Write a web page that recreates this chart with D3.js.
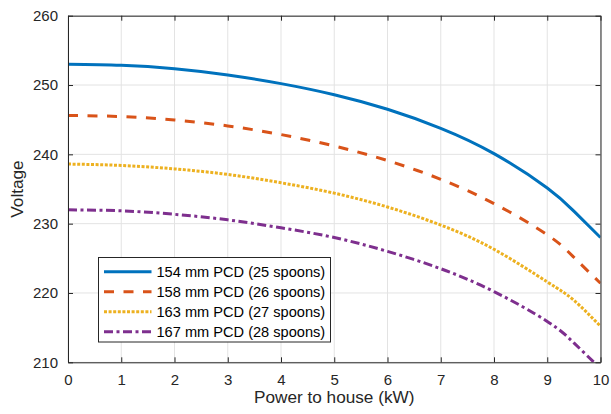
<!DOCTYPE html>
<html>
<head>
<meta charset="utf-8">
<script src="https://cdn.jsdelivr.net/npm/d3@7"></script>
<style>
  body { margin: 0; background: #fff; }
  svg { font-family: "Liberation Sans", Arial, sans-serif; }
</style>
</head>
<body>
<div id="chart"></div>
<script>
// power to house (kW)
var power = [0, 1, 2, 3, 4, 5, 6, 7, 8, 9, 9.5, 10];

// voltage for each rotor size
var v154 = [253.0, 252.85, 252.35, 251.45, 250.2, 248.6, 246.5, 243.75, 240.1, 235.15, 231.8, 228.0];
var v158 = [245.6, 245.45, 244.95, 244.1, 242.85, 241.2, 239.1, 236.4, 232.9, 228.4, 225.15, 221.4];
var v163 = [238.6, 238.4, 237.9, 237.1, 235.9, 234.4, 232.4, 229.8, 226.3, 221.6, 218.95, 215.2];
var v167 = [232.0, 231.85, 231.35, 230.55, 229.4, 228.0, 226.0, 223.5, 220.2, 215.9, 212.8, 209.1];

var labels = ["154 mm PCD (25 spoons)", "158 mm PCD (26 spoons)",
              "163 mm PCD (27 spoons)", "167 mm PCD (28 spoons)"];
var colors = ["#0072BD", "#D95319", "#EDB120", "#7E2F8E"];
var dashes = ["none", "10,9.5", "3,1.6", "9,3.5,3,3.5"];

var xTicks = [0, 1, 2, 3, 4, 5, 6, 7, 8, 9, 10];
var yTicks = [210, 220, 230, 240, 250, 260];

var series = [v154, v158, v163, v167];

var width = 611, height = 414;
var margin = { top: 15.7, right: 10.5, bottom: 51.7, left: 68 };

var svg = d3.select("#chart").append("svg")
    .attr("width", width)
    .attr("height", height);

var x = d3.scaleLinear().domain([0, 10]).range([margin.left, width - margin.right]);
var y = d3.scaleLinear().domain([210, 260]).range([height - margin.bottom, margin.top]);

// grid
var grid = svg.append("g").attr("stroke", "#e3e3e3").attr("stroke-width", 1);
grid.selectAll(".gx").data(xTicks).enter().append("line")
    .attr("x1", d => x(d)).attr("x2", d => x(d))
    .attr("y1", y(210)).attr("y2", y(260));
grid.selectAll(".gy").data(yTicks).enter().append("line")
    .attr("x1", x(0)).attr("x2", x(10))
    .attr("y1", d => y(d)).attr("y2", d => y(d));

svg.append("clipPath").attr("id", "clip")
  .append("rect")
    .attr("x", x(0)).attr("y", y(260))
    .attr("width", x(10) - x(0)).attr("height", y(210) - y(260));

var line = d3.line()
    .x((d, i) => x(power[i]))
    .y(d => y(d))
    .curve(d3.curveNatural);

svg.append("g").attr("clip-path", "url(#clip)")
  .selectAll("path").data(series).enter().append("path")
    .attr("d", d => line(d))
    .attr("fill", "none")
    .attr("stroke", (d, i) => colors[i])
    .attr("stroke-width", 3)
    .attr("stroke-dasharray", (d, i) => dashes[i]);

// axes (MATLAB style box, ticks pointing in)
function styleAxis(g) {
    g.select(".domain").attr("stroke", "#262626");
    g.selectAll(".tick line").attr("stroke", "#262626");
    g.selectAll(".tick text").attr("fill", "#262626").style("font-size", "15px");
}
svg.append("g")
    .attr("transform", "translate(0," + y(210) + ")")
    .call(d3.axisBottom(x).tickValues(xTicks).tickSizeInner(-5).tickSizeOuter(0).tickPadding(12))
    .call(styleAxis);
svg.append("g")
    .attr("transform", "translate(0," + y(260) + ")")
    .call(d3.axisTop(x).tickValues(xTicks).tickSizeInner(-5).tickSizeOuter(0).tickFormat(""))
    .call(styleAxis);
svg.append("g")
    .attr("transform", "translate(" + x(0) + ",0)")
    .call(d3.axisLeft(y).tickValues(yTicks).tickSizeInner(-5).tickSizeOuter(0).tickPadding(10))
    .call(styleAxis);
svg.append("g")
    .attr("transform", "translate(" + x(10) + ",0)")
    .call(d3.axisRight(y).tickValues(yTicks).tickSizeInner(-5).tickSizeOuter(0).tickFormat(""))
    .call(styleAxis);

// axis titles
svg.append("text")
    .attr("x", (x(0) + x(10)) / 2)
    .attr("y", 403)
    .attr("text-anchor", "middle")
    .attr("fill", "#262626")
    .style("font-size", "17.2px")
    .text("Power to house (kW)");
svg.append("text")
    .attr("transform", "translate(22.5," + ((y(210) + y(260)) / 2) + ") rotate(-90)")
    .attr("text-anchor", "middle")
    .attr("fill", "#262626")
    .style("font-size", "17.2px")
    .text("Voltage");

// legend
var legend = svg.append("g").attr("transform", "translate(98.5,257.5)");
legend.append("rect")
    .attr("width", 232).attr("height", 84.5)
    .attr("fill", "#fff")
    .attr("stroke", "#262626")
    .attr("stroke-width", 1);
var item = legend.selectAll(".item").data(labels).enter().append("g")
    .attr("transform", (d, i) => "translate(0," + (14.2 + i * 20) + ")");
item.append("line")
    .attr("x1", 5.5).attr("x2", 53)
    .attr("stroke", (d, i) => colors[i])
    .attr("stroke-width", 3)
    .attr("stroke-dasharray", (d, i) => dashes[i]);
item.append("text")
    .attr("x", 58)
    .attr("dy", "0.35em")
    .attr("fill", "#000")
    .style("font-size", "14.6px")
    .text(d => d);
</script>
</body>
</html>
